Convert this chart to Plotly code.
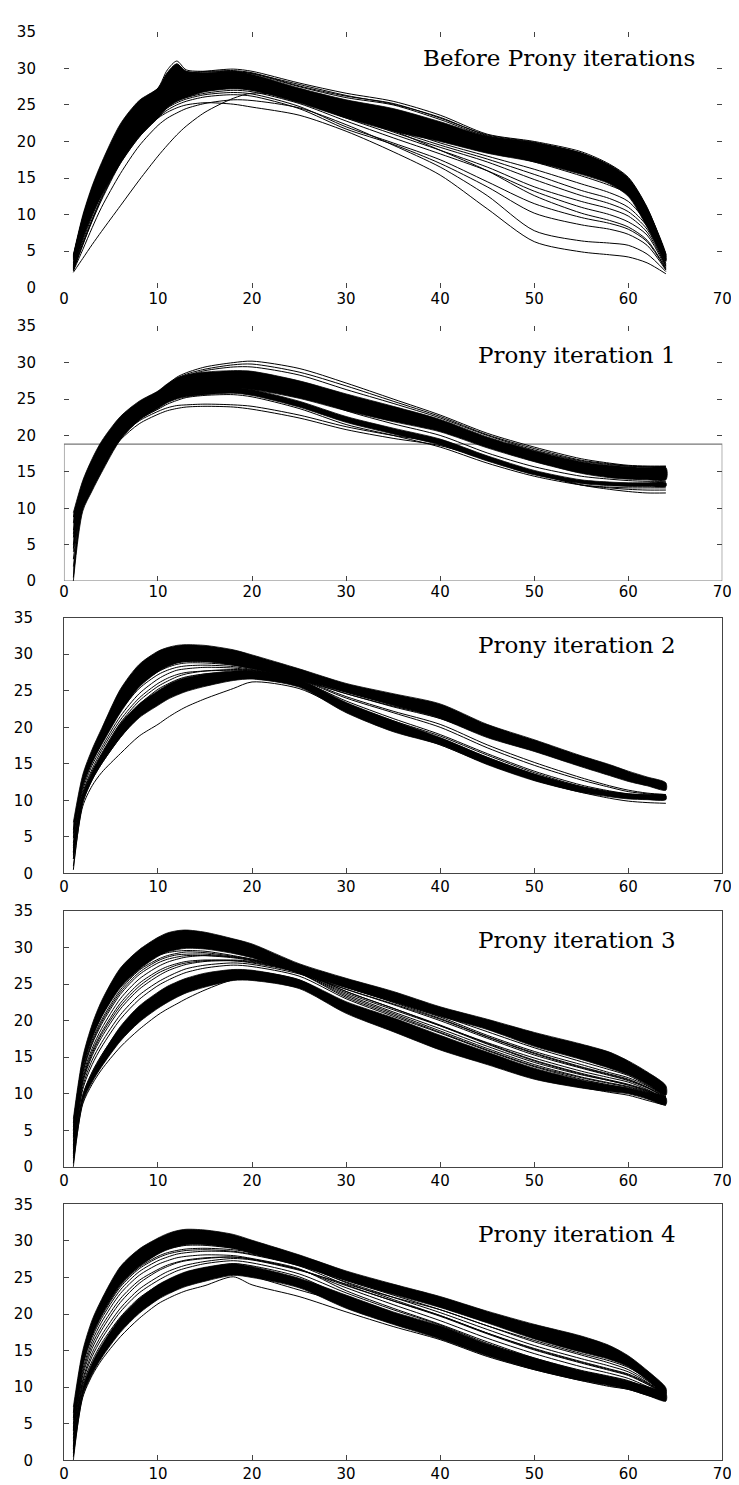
import plotly.graph_objects as go

# ---------------- data ----------------
X = [1, 2, 3, 4, 6, 8, 10, 11, 12, 13, 15, 18, 20, 25, 30, 35, 40, 45, 50, 55, 58, 60, 62, 64]
X_TICKS = [0, 10, 20, 30, 40, 50, 60, 70]
Y_TICKS = [0, 5, 10, 15, 20, 25, 30, 35]
TITLES = ["Before Prony iterations", "Prony iteration 1", "Prony iteration 2",
          "Prony iteration 3", "Prony iteration 4"]

# ---- panel 1: before Prony iterations ----
P1_BANDS = [
    ([4.5, 9.9, 13.9, 17.1, 22.4, 25.6, 27.3, 29.4, 30.6, 29.6, 29.4, 29.6, 29.2, 27.3, 25.7, 24.5, 22.7, 20.7, 19.8, 18.4, 16.7, 14.9, 10.8, 4.6],
     [2.8, 6.8, 10.0, 12.6, 17.0, 20.6, 23.2, 24.6, 25.5, 26.0, 26.8, 27.2, 27.0, 25.3, 23.2, 21.4, 20.0, 18.4, 17.2, 15.5, 14.2, 12.5, 8.3, 3.6]),
]
P1_LINES = [
    [4.4, 9.6, 13.6, 16.8, 22.0, 25.3, 27.3, 29.8, 31.0, 29.8, 29.6, 29.7, 29.4, 27.6, 26.2, 25.2, 23.2, 20.9, 19.9, 18.4, 16.7, 14.9, 10.8, 4.5],
    [4.2, 9.4, 13.4, 16.6, 21.8, 25.1, 27.1, 29.4, 30.6, 29.6, 29.5, 29.6, 29.3, 27.5, 26.0, 25.0, 23.0, 20.7, 19.8, 18.3, 16.6, 14.8, 10.6, 4.4],
    [4.0, 9.2, 13.1, 16.3, 21.5, 24.8, 26.9, 26.4, 28.6, 28.0, 28.6, 29.0, 28.8, 27.0, 25.3, 24.0, 22.2, 20.2, 19.2, 17.8, 16.2, 14.4, 10.2, 4.2],
    [3.8, 9.0, 12.8, 16.0, 21.2, 24.5, 26.6, 26.8, 28.2, 27.6, 28.2, 28.7, 28.5, 26.6, 24.8, 23.5, 21.8, 19.8, 18.8, 17.3, 15.8, 14.0, 9.8, 4.0],
    [4.3, 9.5, 13.5, 16.7, 21.9, 25.2, 27.2, 28.3, 29.0, 29.3, 29.6, 29.9, 29.6, 28.0, 26.6, 25.5, 23.6, 21.0, 20.0, 18.6, 16.9, 15.1, 11.0, 4.6],
    [4.1, 9.2, 13.1, 16.2, 21.3, 24.6, 26.7, 27.7, 28.4, 28.8, 29.2, 29.5, 29.3, 27.8, 26.3, 25.1, 23.3, 20.8, 19.8, 18.4, 16.8, 15.0, 10.9, 4.5],
    [2.1, 4.0, 5.9, 7.7, 11.2, 14.7, 18.0, 19.5, 20.9, 22.1, 24.0, 25.9, 26.6, 26.0, 24.0, 21.5, 18.8, 16.0, 12.6, 10.2, 9.2, 8.3, 6.5, 2.6],
    [2.4, 5.8, 9.2, 12.2, 17.2, 20.8, 23.2, 24.0, 24.6, 25.0, 25.3, 25.1, 24.7, 23.6, 21.4, 18.6, 15.4, 10.8, 6.3, 4.9, 4.5, 4.2, 3.4, 1.9],
    [2.3, 5.2, 8.2, 11.0, 15.6, 19.4, 22.2, 23.2, 23.9, 24.5, 25.2, 25.7, 25.6, 24.6, 22.3, 19.5, 16.5, 12.6, 7.8, 6.4, 6.1, 5.8, 4.6, 2.2],
    [2.8, 7.0, 10.5, 13.5, 18.5, 22.0, 24.4, 25.3, 26.0, 26.5, 27.1, 27.5, 27.3, 25.8, 23.6, 21.3, 19.2, 17.2, 14.8, 12.6, 11.5, 10.4, 8.0, 3.0],
    [3.0, 7.4, 10.9, 13.9, 18.9, 22.4, 24.7, 25.6, 26.3, 26.8, 27.4, 27.8, 27.6, 26.2, 24.3, 22.0, 19.8, 18.0, 16.2, 14.2, 13.0, 11.8, 8.8, 3.3],
    [2.6, 6.4, 9.8, 12.8, 17.8, 21.4, 23.9, 24.8, 25.5, 26.0, 26.6, 27.0, 26.8, 25.2, 22.8, 20.5, 18.3, 16.0, 13.2, 11.0, 10.0, 9.0, 7.2, 2.7],
    [2.7, 6.7, 10.1, 13.1, 18.1, 21.7, 24.1, 25.0, 25.8, 26.3, 26.9, 27.3, 27.0, 25.5, 23.2, 21.0, 18.8, 16.5, 13.8, 11.8, 10.8, 9.8, 7.6, 2.9],
    [2.5, 6.1, 9.4, 12.4, 17.4, 21.0, 23.6, 24.6, 25.3, 25.8, 26.4, 26.7, 26.5, 24.8, 22.0, 19.8, 17.5, 14.5, 11.5, 9.6, 8.8, 8.0, 6.3, 2.5],
    [3.2, 7.8, 11.3, 14.3, 19.3, 22.8, 25.0, 25.9, 26.6, 27.1, 27.7, 28.1, 27.9, 26.6, 24.8, 22.7, 20.4, 18.8, 17.2, 15.3, 14.0, 12.8, 9.3, 3.6],
    [2.4, 5.9, 9.1, 12.0, 17.0, 20.6, 23.3, 24.3, 25.0, 25.5, 26.1, 26.4, 26.2, 24.5, 21.7, 19.6, 17.0, 13.8, 10.2, 8.6, 8.0, 7.3, 5.8, 2.4],
    [3.4, 8.2, 11.8, 14.8, 19.8, 23.2, 25.4, 26.3, 27.0, 27.5, 28.0, 28.3, 28.1, 26.8, 25.0, 23.4, 21.2, 19.3, 17.9, 16.3, 15.0, 13.6, 9.8, 3.8],
    [2.9, 7.2, 10.7, 13.7, 18.7, 22.2, 24.6, 25.5, 26.2, 26.7, 27.3, 27.6, 27.4, 26.0, 24.0, 21.6, 19.5, 17.6, 15.5, 13.3, 12.2, 11.0, 8.4, 3.1],
]

# ---- panel 2: Prony iteration 1 ----
P2_BANDS = [
    ([9.4, 13.8, 16.8, 19.2, 22.6, 24.7, 26.1, 27.1, 27.9, 28.3, 28.7, 28.9, 28.8, 27.5, 25.7, 24.0, 22.2, 19.8, 17.9, 16.4, 15.9, 15.7, 15.6, 15.6],
     [4.0, 10.6, 13.6, 16.0, 20.0, 22.6, 24.2, 24.9, 25.5, 25.9, 26.3, 26.5, 26.3, 25.1, 23.4, 21.9, 20.5, 18.3, 16.4, 14.8, 14.2, 14.0, 13.9, 13.9]),
    ([2.0, 11.2, 14.2, 16.6, 20.6, 23.1, 24.5, 25.2, 25.7, 26.0, 26.4, 26.6, 26.3, 24.7, 22.6, 21.0, 19.5, 17.2, 15.2, 13.9, 13.6, 13.5, 13.5, 13.5],
     [0.0, 9.6, 12.4, 14.9, 19.4, 22.1, 23.7, 24.5, 25.0, 25.3, 25.6, 25.8, 25.5, 23.9, 21.8, 20.2, 18.7, 16.5, 14.6, 13.4, 13.1, 13.0, 13.0, 13.0]),
]
P2_LINES = [
    [8.8, 12.8, 16.0, 18.6, 22.0, 24.3, 26.0, 27.0, 28.0, 28.6, 29.4, 30.0, 30.2, 29.2, 27.2, 25.0, 22.8, 20.3, 18.4, 16.8, 16.2, 15.9, 15.8, 15.8],
    [8.0, 12.6, 15.8, 18.3, 21.7, 24.0, 25.8, 26.8, 27.8, 28.4, 29.1, 29.7, 29.8, 28.7, 26.8, 24.7, 22.6, 20.1, 18.2, 16.6, 16.1, 15.8, 15.7, 15.7],
    [7.0, 12.3, 15.5, 18.0, 21.4, 23.7, 25.5, 26.5, 27.5, 28.2, 28.9, 29.4, 29.4, 28.3, 26.3, 24.4, 22.4, 20.0, 18.0, 16.5, 16.0, 15.8, 15.7, 15.7],
    [6.5, 11.6, 14.4, 16.4, 19.8, 22.0, 23.3, 23.8, 24.1, 24.2, 24.3, 24.2, 24.0, 22.8, 21.2, 20.0, 19.0, 17.0, 15.0, 13.2, 12.6, 12.3, 12.1, 12.1],
    [5.0, 11.3, 14.1, 16.1, 19.4, 21.6, 22.9, 23.4, 23.7, 23.9, 24.0, 23.9, 23.6, 22.4, 20.8, 19.6, 18.6, 16.7, 14.8, 13.2, 12.8, 12.6, 12.5, 12.5],
    [3.0, 11.4, 14.6, 17.2, 21.0, 23.5, 25.0, 25.7, 26.3, 26.7, 27.2, 27.5, 27.3, 25.9, 24.0, 22.5, 21.2, 18.9, 16.9, 15.3, 14.6, 14.3, 14.2, 14.2],
    [0.5, 10.8, 13.8, 16.0, 19.8, 22.2, 23.6, 24.3, 24.8, 25.2, 25.5, 25.6, 25.3, 23.7, 21.5, 20.0, 18.4, 16.2, 14.4, 13.2, 12.9, 12.8, 12.8, 12.8],
    [6.0, 12.0, 15.2, 17.8, 21.6, 24.1, 25.6, 26.4, 27.0, 27.4, 27.9, 28.2, 28.0, 26.6, 24.6, 22.9, 21.0, 18.6, 16.8, 15.2, 14.8, 14.6, 14.5, 14.5],
    [4.5, 11.7, 14.9, 17.5, 21.3, 23.8, 25.3, 26.0, 26.6, 27.0, 27.5, 27.7, 27.5, 25.8, 23.4, 21.6, 20.0, 17.6, 15.7, 14.4, 14.0, 13.8, 13.7, 13.7],
]

# ---- panel 3: Prony iteration 2 ----
P3_BANDS = [
    ([7.0, 13.5, 17.0, 19.8, 25.2, 28.6, 30.4, 30.9, 31.2, 31.3, 31.2, 30.6, 29.9, 28.0, 26.0, 24.6, 23.2, 20.4, 18.3, 16.1, 14.9, 14.0, 13.2, 12.4],
     [5.0, 12.0, 15.2, 17.6, 22.0, 25.5, 27.6, 28.3, 28.8, 29.0, 29.0, 28.5, 28.0, 26.5, 24.8, 23.0, 21.2, 18.6, 16.7, 14.6, 13.4, 12.6, 12.0, 11.4]),
    ([3.0, 10.6, 13.8, 16.3, 20.5, 23.2, 25.0, 25.8, 26.4, 26.8, 27.3, 27.7, 27.7, 26.5, 23.4, 20.9, 18.6, 15.9, 13.6, 11.9, 11.2, 10.9, 10.8, 10.7],
     [2.0, 9.8, 12.8, 15.0, 18.6, 21.3, 23.0, 23.8, 24.4, 24.9, 25.6, 26.4, 26.6, 25.5, 22.0, 19.4, 17.6, 14.9, 12.7, 11.1, 10.5, 10.2, 10.1, 10.1]),
]
P3_LINES = [
    [5.5, 12.6, 16.2, 19.0, 23.8, 26.9, 28.5, 29.0, 29.3, 29.4, 29.3, 28.8, 28.3, 26.9, 25.0, 23.4, 21.8, 19.4, 17.4, 15.4, 14.2, 13.4, 12.6, 11.8],
    [4.2, 11.8, 15.2, 17.8, 22.2, 25.3, 27.2, 27.8, 28.2, 28.4, 28.5, 28.3, 27.9, 26.6, 24.6, 22.9, 21.4, 19.0, 17.1, 15.1, 13.9, 13.1, 12.3, 11.6],
    [3.5, 11.0, 14.3, 16.8, 21.0, 24.0, 26.0, 26.7, 27.2, 27.5, 27.7, 27.8, 27.7, 26.3, 23.3, 20.9, 18.8, 16.2, 13.8, 11.9, 11.2, 10.8, 10.6, 10.5],
    [2.5, 10.3, 13.4, 15.8, 19.7, 22.7, 24.8, 25.6, 26.2, 26.6, 27.0, 27.2, 27.2, 26.1, 22.9, 20.4, 18.2, 15.6, 13.3, 11.5, 10.8, 10.5, 10.3, 10.2],
    [1.0, 9.2, 12.0, 13.8, 16.4, 18.8, 20.4, 21.3, 22.1, 22.8, 23.9, 25.3, 26.2, 25.3, 22.3, 19.8, 17.6, 15.0, 12.8, 11.1, 10.3, 9.9, 9.7, 9.6],
    [6.0, 12.8, 16.0, 18.6, 22.8, 25.8, 27.6, 28.2, 28.6, 28.8, 28.8, 28.5, 28.1, 26.6, 24.2, 22.2, 20.4, 17.6, 15.2, 13.1, 12.0, 11.4, 11.0, 10.8],
    [0.5, 9.6, 12.8, 15.0, 18.6, 21.6, 23.7, 24.5, 25.2, 25.7, 26.3, 26.9, 27.0, 26.0, 23.0, 20.6, 18.5, 15.9, 13.6, 11.7, 10.9, 10.6, 10.4, 10.3],
    [3.0, 10.8, 14.0, 16.4, 20.6, 23.6, 25.6, 26.3, 26.9, 27.3, 27.7, 27.9, 27.8, 26.5, 24.0, 22.0, 20.0, 17.2, 14.8, 12.8, 11.8, 11.2, 10.9, 10.7],
    [2.0, 10.0, 13.0, 15.3, 19.2, 22.2, 24.3, 25.1, 25.8, 26.2, 26.7, 27.0, 27.0, 26.4, 24.6, 22.8, 21.2, 18.9, 17.0, 15.0, 13.8, 13.0, 12.3, 11.7],
    [4.8, 12.2, 15.6, 18.3, 22.9, 26.1, 27.9, 28.4, 28.8, 29.0, 29.0, 28.7, 28.2, 26.8, 24.8, 23.1, 21.6, 19.2, 17.2, 15.2, 14.0, 13.2, 12.4, 11.7],
    [3.8, 11.4, 14.8, 17.2, 21.5, 24.6, 26.6, 27.3, 27.8, 28.0, 28.2, 28.1, 27.8, 26.4, 23.6, 21.2, 19.0, 16.4, 14.0, 12.1, 11.3, 10.9, 10.7, 10.5],
    [2.8, 10.6, 13.7, 16.1, 20.1, 23.1, 25.2, 25.9, 26.5, 26.9, 27.3, 27.5, 27.4, 26.2, 23.2, 20.7, 18.4, 15.8, 13.5, 11.6, 10.9, 10.6, 10.4, 10.3],
]

# ---- panel 4: Prony iteration 3 ----
P4_BANDS = [
    ([6.6, 15.0, 19.5, 22.7, 27.2, 29.7, 31.4, 32.0, 32.3, 32.4, 32.1, 31.2, 30.5, 27.8, 25.8, 24.0, 21.9, 20.2, 18.4, 16.8, 15.7, 14.5, 13.0, 11.1],
     [5.0, 13.6, 17.6, 20.5, 24.5, 27.0, 28.8, 29.4, 29.7, 29.9, 29.8, 29.2, 28.6, 26.5, 24.5, 22.6, 20.6, 18.8, 16.5, 14.7, 13.5, 12.6, 11.3, 9.8]),
    ([1.5, 9.8, 12.9, 15.2, 19.2, 22.0, 23.9, 24.7, 25.3, 25.8, 26.5, 27.0, 26.9, 25.6, 22.6, 20.4, 18.0, 15.7, 13.5, 11.9, 11.2, 10.8, 10.2, 9.5],
     [0.0, 8.8, 11.6, 13.7, 17.2, 19.8, 21.7, 22.5, 23.2, 23.8, 24.6, 25.5, 25.5, 24.4, 21.0, 18.5, 16.0, 14.0, 12.0, 10.8, 10.3, 10.0, 9.3, 8.5]),
]
P4_LINES = [
    [6.0, 14.4, 18.7, 21.7, 26.0, 28.6, 30.0, 30.4, 30.6, 30.6, 30.3, 29.5, 28.8, 26.9, 24.8, 22.8, 20.7, 18.5, 16.3, 14.4, 13.3, 12.5, 11.2, 9.8],
    [5.0, 13.6, 17.8, 20.6, 24.8, 27.4, 28.9, 29.3, 29.5, 29.6, 29.5, 28.9, 28.4, 26.8, 24.6, 22.5, 20.3, 17.8, 15.5, 13.6, 12.6, 11.9, 10.9, 9.6],
    [4.0, 12.8, 16.8, 19.5, 23.6, 26.3, 27.9, 28.4, 28.7, 28.9, 28.9, 28.6, 28.2, 26.7, 24.0, 21.7, 19.4, 16.9, 14.6, 12.8, 11.9, 11.3, 10.5, 9.3],
    [3.0, 12.0, 15.8, 18.4, 22.4, 25.1, 26.8, 27.4, 27.8, 28.1, 28.3, 28.2, 27.9, 26.5, 23.4, 21.0, 18.6, 16.2, 14.0, 12.3, 11.5, 11.0, 10.3, 9.2],
    [0.5, 8.6, 11.3, 13.3, 16.4, 18.8, 20.8, 21.6, 22.3, 23.0, 24.2, 25.6, 25.7, 24.7, 21.8, 19.2, 16.6, 14.4, 12.3, 10.9, 10.2, 9.8, 9.1, 8.4],
    [5.5, 14.0, 18.2, 21.2, 25.4, 28.0, 29.5, 29.9, 30.1, 30.2, 30.1, 29.4, 28.8, 26.8, 24.0, 21.7, 19.3, 16.8, 14.5, 12.7, 11.8, 11.2, 10.4, 9.4],
    [2.0, 11.0, 14.6, 17.0, 20.8, 23.5, 25.3, 26.0, 26.6, 27.1, 27.6, 27.9, 27.7, 26.4, 24.3, 22.3, 20.2, 17.8, 15.6, 13.7, 12.7, 12.0, 10.9, 9.4],
    [3.5, 12.4, 16.2, 18.9, 23.0, 25.7, 27.4, 28.0, 28.4, 28.7, 28.9, 28.7, 28.3, 26.7, 24.6, 22.6, 20.5, 18.0, 15.8, 14.0, 12.9, 12.2, 11.1, 9.6],
    [1.2, 9.8, 13.0, 15.3, 19.0, 21.7, 23.6, 24.4, 25.0, 25.6, 26.3, 26.9, 26.8, 25.6, 22.2, 19.8, 17.4, 15.0, 12.9, 11.4, 10.7, 10.3, 9.7, 8.8],
    [4.5, 13.2, 17.3, 20.1, 24.2, 26.9, 28.4, 28.9, 29.2, 29.4, 29.3, 28.8, 28.4, 26.5, 23.2, 20.8, 18.4, 16.0, 13.8, 12.2, 11.4, 10.9, 10.2, 9.2],
    [2.5, 11.5, 15.2, 17.7, 21.6, 24.3, 26.1, 26.8, 27.3, 27.7, 28.1, 28.2, 28.0, 26.6, 23.8, 21.5, 19.3, 17.0, 14.9, 13.1, 12.2, 11.6, 10.6, 9.4],
    [4.2, 13.0, 17.0, 19.8, 23.9, 26.6, 28.2, 28.7, 29.0, 29.1, 29.1, 28.7, 28.3, 26.6, 24.3, 22.2, 20.0, 17.6, 15.3, 13.5, 12.5, 11.8, 10.8, 9.5],
    [2.8, 11.8, 15.5, 18.1, 22.0, 24.7, 26.5, 27.1, 27.6, 27.9, 28.2, 28.3, 28.1, 26.6, 23.6, 21.2, 18.9, 16.5, 14.3, 12.6, 11.8, 11.2, 10.4, 9.3],
    [1.8, 10.6, 14.0, 16.4, 20.2, 22.9, 24.8, 25.5, 26.1, 26.6, 27.2, 27.6, 27.4, 26.1, 23.0, 20.6, 18.3, 15.9, 13.7, 12.0, 11.2, 10.7, 10.0, 9.0],
]

# ---- panel 5: Prony iteration 4 ----
P5_BANDS = [
    ([7.3, 15.0, 19.2, 22.0, 26.5, 28.9, 30.4, 31.0, 31.4, 31.6, 31.5, 30.9, 30.1, 28.1, 25.9, 24.1, 22.4, 20.4, 18.6, 17.0, 15.7, 14.3, 12.3, 9.9],
     [5.5, 13.4, 17.2, 19.9, 24.0, 26.5, 28.2, 28.8, 29.2, 29.5, 29.5, 29.0, 28.3, 26.6, 24.6, 22.7, 20.9, 18.8, 16.6, 14.8, 13.8, 12.8, 11.0, 9.0]),
    ([1.6, 10.0, 13.3, 15.7, 19.5, 22.1, 24.0, 24.7, 25.3, 25.8, 26.4, 26.9, 26.5, 24.9, 22.6, 20.3, 18.4, 15.9, 14.0, 12.2, 11.4, 10.8, 10.1, 9.2],
     [0.0, 8.8, 11.8, 14.0, 17.5, 20.1, 22.0, 22.7, 23.3, 23.8, 24.5, 25.3, 25.0, 23.6, 20.8, 18.6, 16.6, 14.3, 12.4, 10.9, 10.2, 9.7, 8.9, 8.1]),
]
P5_LINES = [
    [6.5, 14.5, 18.6, 21.3, 25.6, 28.0, 29.5, 30.0, 30.3, 30.5, 30.4, 29.8, 29.2, 27.4, 25.3, 23.4, 21.5, 19.4, 17.3, 15.5, 14.4, 13.4, 11.6, 9.4],
    [5.0, 13.7, 17.7, 20.4, 24.4, 26.9, 28.4, 28.9, 29.2, 29.4, 29.4, 29.0, 28.5, 26.9, 24.9, 22.9, 21.0, 18.9, 16.8, 15.0, 14.0, 13.1, 11.4, 9.3],
    [4.0, 12.9, 16.8, 19.4, 23.3, 25.8, 27.3, 27.8, 28.2, 28.4, 28.6, 28.5, 28.1, 26.6, 24.0, 21.8, 19.7, 17.3, 15.1, 13.3, 12.3, 11.6, 10.4, 9.0],
    [3.0, 12.0, 15.8, 18.3, 22.1, 24.6, 26.1, 26.7, 27.1, 27.4, 27.7, 27.8, 27.5, 26.1, 23.6, 21.3, 19.1, 16.7, 14.6, 12.8, 11.9, 11.2, 10.1, 8.8],
    [0.5, 8.6, 11.6, 13.7, 16.9, 19.4, 21.4, 22.1, 22.7, 23.2, 23.9, 25.1, 24.0, 22.4, 20.3, 18.3, 16.5, 14.2, 12.4, 10.9, 10.1, 9.7, 8.9, 8.1],
    [1.0, 9.2, 12.2, 14.4, 17.8, 20.5, 22.4, 23.1, 23.7, 24.2, 24.9, 25.9, 25.2, 23.3, 21.5, 19.5, 17.6, 15.3, 13.3, 11.6, 10.7, 10.2, 9.4, 8.5],
    [5.8, 14.1, 18.2, 20.9, 25.0, 27.5, 29.0, 29.5, 29.8, 30.0, 29.9, 29.4, 28.8, 26.9, 24.3, 22.0, 19.8, 17.4, 15.2, 13.4, 12.4, 11.7, 10.5, 9.1],
    [2.0, 11.0, 14.7, 17.1, 20.8, 23.4, 25.1, 25.8, 26.3, 26.7, 27.2, 27.6, 27.4, 26.0, 24.1, 22.3, 20.6, 18.4, 16.4, 14.6, 13.6, 12.7, 11.2, 9.2],
    [3.5, 12.4, 16.3, 18.9, 22.8, 25.3, 26.8, 27.3, 27.7, 27.9, 28.1, 28.0, 27.6, 26.2, 23.2, 20.8, 18.6, 16.2, 14.0, 12.3, 11.5, 10.9, 9.9, 8.7],
    [4.5, 13.3, 17.3, 19.9, 23.9, 26.4, 27.9, 28.4, 28.7, 28.9, 29.0, 28.8, 28.4, 26.8, 24.6, 22.6, 20.6, 18.4, 16.2, 14.4, 13.3, 12.4, 10.9, 9.0],
    [1.5, 10.3, 13.6, 16.0, 19.6, 22.2, 23.9, 24.6, 25.2, 25.7, 26.3, 26.9, 26.6, 25.1, 22.3, 20.0, 17.9, 15.5, 13.5, 11.9, 11.1, 10.5, 9.6, 8.6],
    [4.2, 13.1, 17.1, 19.7, 23.7, 26.2, 27.7, 28.2, 28.5, 28.7, 28.8, 28.6, 28.2, 26.7, 24.4, 22.3, 20.2, 17.9, 15.7, 13.9, 12.9, 12.1, 10.7, 9.0],
    [2.6, 11.6, 15.3, 17.8, 21.6, 24.2, 25.9, 26.5, 27.0, 27.3, 27.6, 27.8, 27.5, 26.1, 23.9, 21.8, 19.8, 17.4, 15.3, 13.5, 12.5, 11.8, 10.6, 8.9],
    [1.8, 10.7, 14.2, 16.6, 20.3, 22.9, 24.6, 25.3, 25.9, 26.3, 26.9, 27.3, 27.0, 25.5, 22.9, 20.6, 18.5, 16.0, 13.9, 12.2, 11.4, 10.8, 9.8, 8.7],
]

PANELS = [
    (P1_BANDS, P1_LINES),
    (P2_BANDS, P2_LINES),
    (P3_BANDS, P3_LINES),
    (P4_BANDS, P4_LINES),
    (P5_BANDS, P5_LINES),
]

# ---------------- layout geometry ----------------
W, H = 739, 1485
LEFT_PX, RIGHT_PX = 52, 724
TOP_PX = [15, 313, 608, 905, 1202]
BOT_PX = [274, 571, 867, 1164, 1461]
TITLE_RIGHT_PX = [698, 679, 679, 679, 679]
TITLE_MID_PX = [42, 342, 636, 934, 1232]
FRAME = ["ticks", "rect", "full", "full", "full"]

fig = go.Figure()
SMOOTH = 0.8

for i, (bands, lines) in enumerate(PANELS):
    xa = "x" if i == 0 else f"x{i+1}"
    ya = "y" if i == 0 else f"y{i+1}"
    for up, lo in bands:
        fig.add_trace(go.Scatter(
            x=X + X[::-1], y=up + lo[::-1], mode="lines", fill="toself",
            fillcolor="black", line=dict(color="black", width=0.8, shape="spline", smoothing=SMOOTH),
            xaxis=xa, yaxis=ya, hoverinfo="skip", showlegend=False))
    for ys in lines:
        fig.add_trace(go.Scatter(
            x=X, y=ys, mode="lines",
            line=dict(color="black", width=1, shape="spline", smoothing=SMOOTH),
            xaxis=xa, yaxis=ya, hoverinfo="skip", showlegend=False))

tickfont = dict(family="DejaVu Sans", size=15, color="black")
layout = dict(
    width=W, height=H, margin=dict(l=0, r=0, t=0, b=0),
    paper_bgcolor="white", plot_bgcolor="white", showlegend=False,
)
annotations = []
shapes = []
for i in range(5):
    k = "" if i == 0 else str(i + 1)
    full = FRAME[i] == "full"
    common = dict(
        showgrid=False, zeroline=False, ticks="inside", ticklen=5, tickwidth=1,
        tickcolor="#444", showline=full, linecolor="#444", linewidth=1,
        mirror=True if full else "ticks", tickfont=tickfont,
    )
    layout["xaxis" + k] = dict(
        common, domain=[LEFT_PX / W, RIGHT_PX / W], range=[0, 70],
        tickvals=X_TICKS, anchor="y" + k)
    layout["yaxis" + k] = dict(
        common, domain=[1 - BOT_PX[i] / H, 1 - TOP_PX[i] / H], range=[0, 35],
        tickvals=Y_TICKS, anchor="x" + k, ticklabelstandoff=27)
    annotations.append(dict(
        text=TITLES[i], xref="paper", yref="paper",
        x=TITLE_RIGHT_PX[i] / W, y=1 - TITLE_MID_PX[i] / H,
        xanchor="right", yanchor="middle", showarrow=False,
        font=dict(family="DejaVu Serif", size=23, color="black")))
    if FRAME[i] == "rect":
        shapes.append(dict(type="rect", xref="x" + k, yref="y" + k,
                           x0=0, x1=70, y0=0, y1=18.8, layer="below",
                           line=dict(color="#777", width=1.2)))

layout["annotations"] = annotations
layout["shapes"] = shapes
fig.update_layout(**layout)
fig.write_html("out.html")
